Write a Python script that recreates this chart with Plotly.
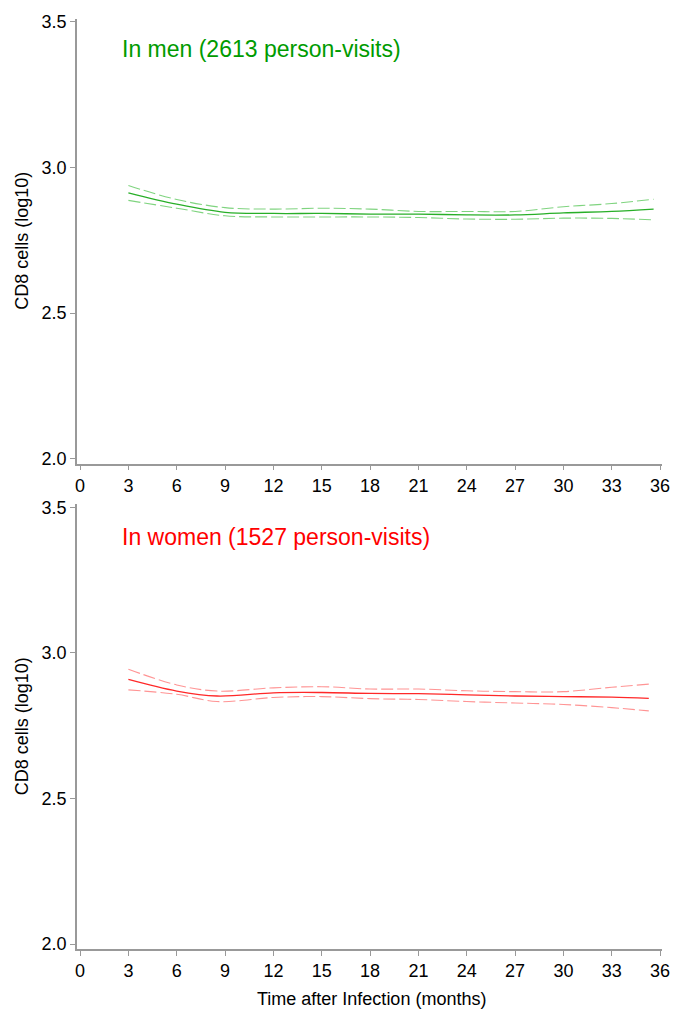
import plotly.graph_objects as go

# ---- data ----
months = [3, 6, 9, 12, 15, 18, 21, 24, 27, 30, 33, 35.6]
men_mean = [2.913, 2.874, 2.846, 2.842, 2.842, 2.840, 2.840, 2.837, 2.837, 2.844, 2.849, 2.857]
men_upper = [2.938, 2.890, 2.862, 2.857, 2.860, 2.857, 2.849, 2.849, 2.849, 2.865, 2.876, 2.891]
men_lower = [2.887, 2.860, 2.834, 2.830, 2.830, 2.830, 2.828, 2.823, 2.822, 2.826, 2.825, 2.820]

months_w = [3, 6, 8.5, 12, 15, 18, 21, 24, 27, 30, 33, 35.3]
women_mean = [2.909, 2.869, 2.852, 2.863, 2.864, 2.861, 2.860, 2.856, 2.852, 2.850, 2.848, 2.844]
women_upper = [2.944, 2.890, 2.869, 2.880, 2.884, 2.876, 2.876, 2.870, 2.867, 2.867, 2.882, 2.893]
women_lower = [2.873, 2.858, 2.833, 2.847, 2.850, 2.843, 2.840, 2.833, 2.828, 2.823, 2.812, 2.801]

x_ticks = list(range(0, 37, 3))
y_ticks = [2.0, 2.5, 3.0, 3.5]
y_ticklabels = ["2.0", "2.5", "3.0", "3.5"]

men_title = "In men (2613 person-visits)"
women_title = "In women (1527 person-visits)"
y_title = "CD8 cells (log10)"
x_title = "Time after Infection (months)"

GREEN = "rgb(0,155,0)"
GREEN_LINE = "rgb(40,175,40)"
GREEN_LIGHT = "rgba(0,170,0,0.5)"
RED = "rgb(255,0,0)"
RED_LINE = "rgb(255,40,40)"
RED_LIGHT = "rgba(255,60,60,0.55)"

fig = go.Figure()

def add_group(x, mean, up, lo, col, light, xa, ya):
    for band in (up, lo):
        fig.add_trace(go.Scatter(x=x, y=band, mode="lines",
                                 line=dict(color=light, width=1.1, dash="12px,4px", shape="spline"),
                                 xaxis=xa, yaxis=ya, showlegend=False, hoverinfo="skip"))
    fig.add_trace(go.Scatter(x=x, y=mean, mode="lines",
                             line=dict(color=col, width=1.3, shape="spline"),
                             xaxis=xa, yaxis=ya, showlegend=False))

add_group(months, men_mean, men_upper, men_lower, GREEN_LINE, GREEN_LIGHT, "x", "y")
add_group(months_w, women_mean, women_upper, women_lower, RED_LINE, RED_LIGHT, "x2", "y2")

FONT = "Liberation Sans, Arial, sans-serif"
axis_common = dict(showline=True, linecolor="#999999", linewidth=1.5, ticks="outside", ticklen=5,
                   tickcolor="#999999", tickwidth=1, showgrid=False, zeroline=False,
                   tickfont=dict(family=FONT, size=18, color="black"))

xr = [-0.19, 36.12]
yr = [1.983, 3.51]

L, R, T, B = 77, 21, 14, 62
FW, FH = 683, 1011
W, H = FW - L - R, FH - T - B

def px(xp):
    return (xp - L) / W

def py(yp):
    return 1 - (yp - T) / H

fig.update_layout(
    width=FW, height=FH,
    margin=dict(l=L, r=R, t=T, b=B),
    paper_bgcolor="white", plot_bgcolor="white",
    font=dict(family=FONT),
    xaxis=dict(domain=[0, 1], anchor="y", range=xr, tickvals=x_ticks, **axis_common),
    yaxis=dict(domain=[0.522, 1], anchor="x", range=yr, tickvals=y_ticks, ticktext=y_ticklabels, **axis_common),
    xaxis2=dict(domain=[0, 1], anchor="y2", range=xr, tickvals=x_ticks, **axis_common),
    yaxis2=dict(domain=[0, 0.478], anchor="x2", range=yr, tickvals=y_ticks, ticktext=y_ticklabels, **axis_common),
)

fig.add_annotation(text=men_title, x=px(120), y=py(44), xref="paper", yref="paper", showarrow=False,
                   font=dict(family=FONT, size=23, color=GREEN), xanchor="left", yanchor="middle")
fig.add_annotation(text=women_title, x=px(120), y=py(535), xref="paper", yref="paper", showarrow=False,
                   font=dict(family=FONT, size=23, color=RED), xanchor="left", yanchor="middle")
for yc in (237, 725):
    fig.add_annotation(text=y_title, x=px(22), y=py(yc), xref="paper", yref="paper", showarrow=False,
                       textangle=-90, font=dict(family=FONT, size=18, color="black"),
                       xanchor="center", yanchor="middle")
fig.add_annotation(text=x_title, x=px(371), y=py(999), xref="paper", yref="paper", showarrow=False,
                   font=dict(family=FONT, size=18, color="black"), xanchor="center", yanchor="middle")

fig.write_html("out.html", config={"displayModeBar": False},
               post_script="document.body.style.margin='0px';")
